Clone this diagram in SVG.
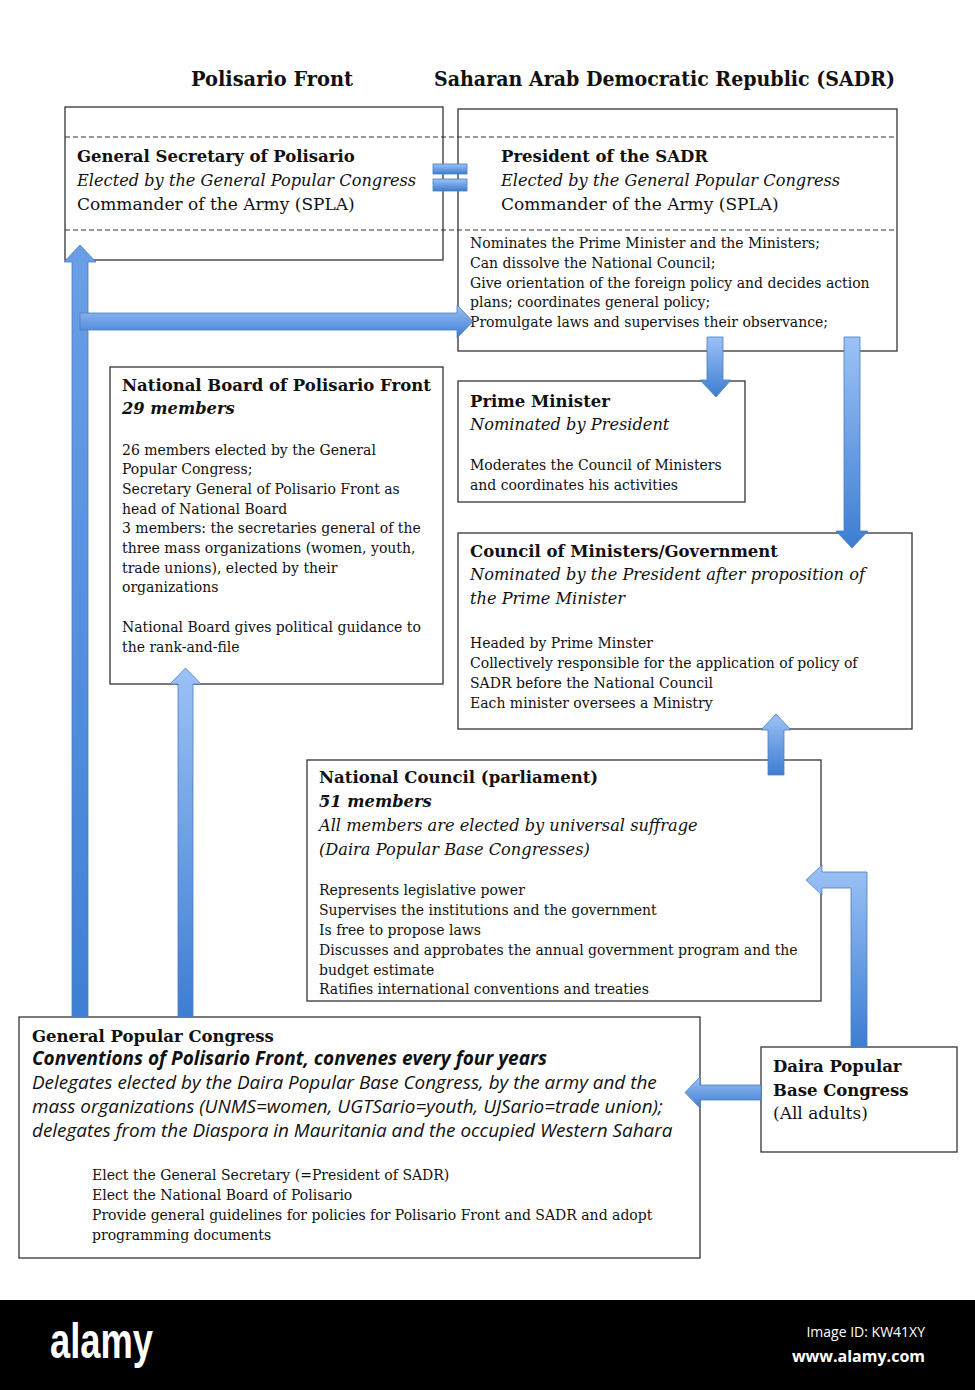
<svg xmlns="http://www.w3.org/2000/svg" width="975" height="1390" viewBox="0 0 975 1390">
<style>
.box{fill:#fff;stroke:#333;stroke-width:1.3}
.dash{fill:none;stroke:#333;stroke-width:1.2;stroke-dasharray:5 3}
.arr{fill:url(#g);stroke:#4a7ebb;stroke-width:0.8}
text{font-family:"DejaVu Serif","Liberation Serif",serif;fill:#111}
.hd{font-size:21px;font-weight:bold}
.t{font-size:16.5px;font-weight:bold}
.i{font-size:16.2px;font-style:italic}
.r{font-size:17px}
.s{font-size:14px}
.bi{font-size:16.3px;font-weight:bold;font-style:italic}
.si{font-family:"Open Sans","Liberation Sans",sans-serif;font-size:18.9px;font-style:italic}
.sbi{font-family:"Open Sans","Liberation Sans",sans-serif;font-size:19px;font-style:italic;font-weight:bold}
</style>
<defs>
<linearGradient id="g" x1="0" y1="0" x2="0" y2="1">
<stop offset="0" stop-color="#9cc2f6"/>
<stop offset="1" stop-color="#3d7dd3"/>
</linearGradient>
<linearGradient id="gv" x1="0" y1="0" x2="0" y2="1">
<stop offset="0" stop-color="#6a9fe6"/>
<stop offset="1" stop-color="#3f80d6"/>
</linearGradient>
</defs>
<rect width="975" height="1390" fill="#fff"/>

<g id="headers">
<text class="hd" x="191" y="86" textLength="162" lengthAdjust="spacingAndGlyphs">Polisario Front</text>
<text class="hd" x="434" y="86" textLength="461" lengthAdjust="spacingAndGlyphs">Saharan Arab Democratic Republic (SADR)</text>
</g>

<g id="general-secretary">
<rect class="box" x="65" y="107" width="378" height="153"/>
<text class="t" x="77" y="162">General Secretary of Polisario</text>
<text class="i" x="77" y="186">Elected by the General Popular Congress</text>
<text class="r" x="77" y="210">Commander of the Army (SPLA)</text>
</g>

<g id="president">
<rect class="box" x="458" y="109" width="439" height="242"/>
<text class="t" x="501" y="162">President of the SADR</text>
<text class="i" x="501" y="186">Elected by the General Popular Congress</text>
<text class="r" x="501" y="210">Commander of the Army (SPLA)</text>
<text class="s" x="470" y="248">Nominates the Prime Minister and the Ministers;</text>
<text class="s" x="470" y="268">Can dissolve the National Council;</text>
<text class="s" x="470" y="288">Give orientation of the foreign policy and decides action</text>
<text class="s" x="470" y="307">plans; coordinates general policy;</text>
<text class="s" x="470" y="327">Promulgate laws and supervises their observance;</text>
</g>

<line class="dash" x1="65" y1="137" x2="897" y2="137"/>
<line class="dash" x1="65" y1="230" x2="897" y2="230"/>

<g id="national-board">
<rect class="box" x="110" y="367" width="333" height="317"/>
<text class="t" x="122" y="391">National Board of Polisario Front</text>
<text class="bi" x="122" y="414">29 members</text>
<text class="s" x="122" y="455">26 members elected by the General</text>
<text class="s" x="122" y="474">Popular Congress;</text>
<text class="s" x="122" y="494">Secretary General of Polisario Front as</text>
<text class="s" x="122" y="514">head of National Board</text>
<text class="s" x="122" y="533">3 members: the secretaries general of the</text>
<text class="s" x="122" y="553">three mass organizations (women, youth,</text>
<text class="s" x="122" y="573">trade unions), elected by their</text>
<text class="s" x="122" y="592">organizations</text>
<text class="s" x="122" y="632">National Board gives political guidance to</text>
<text class="s" x="122" y="652">the rank-and-file</text>
</g>

<g id="prime-minister">
<rect class="box" x="458" y="381" width="287" height="121"/>
<text class="t" x="470" y="407">Prime Minister</text>
<text class="i" x="470" y="430">Nominated by President</text>
<text class="s" x="470" y="470">Moderates the Council of Ministers</text>
<text class="s" x="470" y="490">and coordinates his activities</text>
</g>

<g id="council-of-ministers">
<rect class="box" x="458" y="533" width="454" height="196"/>
<text class="t" x="470" y="557">Council of Ministers/Government</text>
<text class="i" x="470" y="580">Nominated by the President after proposition of</text>
<text class="i" x="470" y="604">the Prime Minister</text>
<text class="s" x="470" y="648">Headed by Prime Minster</text>
<text class="s" x="470" y="668">Collectively responsible for the application of policy of</text>
<text class="s" x="470" y="688">SADR before the National Council</text>
<text class="s" x="470" y="708">Each minister oversees a Ministry</text>
</g>

<g id="national-council">
<rect class="box" x="307" y="760" width="514" height="241"/>
<text class="t" x="319" y="783">National Council (parliament)</text>
<text class="bi" x="319" y="807">51 members</text>
<text class="i" x="319" y="831">All members are elected by universal suffrage</text>
<text class="i" x="319" y="855">(Daira Popular Base Congresses)</text>
<text class="s" x="319" y="895">Represents legislative power</text>
<text class="s" x="319" y="915">Supervises the institutions and the government</text>
<text class="s" x="319" y="935">Is free to propose laws</text>
<text class="s" x="319" y="955">Discusses and approbates the annual government program and the</text>
<text class="s" x="319" y="975">budget estimate</text>
<text class="s" x="319" y="994">Ratifies international conventions and treaties</text>
</g>

<g id="daira">
<rect class="box" x="761" y="1047" width="196" height="105"/>
<text class="t" x="773" y="1072">Daira Popular</text>
<text class="t" x="773" y="1096">Base Congress</text>
<text class="r" x="773" y="1119">(All adults)</text>
</g>

<g id="general-popular-congress">
<rect class="box" x="19" y="1017" width="681" height="241"/>
<text class="t" x="32" y="1042">General Popular Congress</text>
<text class="sbi" x="32" y="1065">Conventions of Polisario Front, convenes every four years</text>
<text class="si" x="32" y="1089">Delegates elected by the Daira Popular Base Congress, by the army and the</text>
<text class="si" x="32" y="1113">mass organizations (UNMS=women, UGTSario=youth, UJSario=trade union);</text>
<text class="si" x="32" y="1137">delegates from the Diaspora in Mauritania and the occupied Western Sahara</text>
<text class="s" x="92" y="1180">Elect the General Secretary (=President of SADR)</text>
<text class="s" x="92" y="1200">Elect the National Board of Polisario</text>
<text class="s" x="92" y="1220">Provide general guidelines for policies for Polisario Front and SADR and adopt</text>
<text class="s" x="92" y="1240">programming documents</text>
</g>

<g id="connectors">
<path class="arr" style="fill:url(#gv)" d="M72,1017 V262 H64 L80,245 L96,262 H88 V1017 Z"/>
<path class="arr" d="M80,313 H457 V305 L473,321.5 L457,338 V330 H80 Z"/>
<rect class="arr" x="433" y="164" width="34" height="10"/>
<rect class="arr" x="433" y="179" width="34" height="12"/>
<path class="arr" d="M707,337 V380 H700 L716,397 L731,380 H723 V337 Z"/>
<path class="arr" d="M844,337 V531 H836 L852,548 L868,531 H860 V337 Z"/>
<path class="arr" d="M178,1017 V684 H170 L185.5,668 L201,684 H193 V1017 Z"/>
<path class="arr" d="M768,775 V730 H761 L776,714 L791,730 H784 V775 Z"/>
<path class="arr" d="M851,1047 V888 H822 V895 L806,880 L822,865 V872 H867 V1047 Z"/>
<path class="arr" d="M761,1085 H700 V1077 L685,1092.5 L700,1108 V1100 H761 Z"/>
</g>

<g id="footer">
<rect x="0" y="1300" width="975" height="90" fill="#000"/>
<text x="50" y="1358" style="font-family:'Liberation Sans',sans-serif;font-weight:bold;font-size:50px;fill:#fff" textLength="103" lengthAdjust="spacingAndGlyphs">alamy</text>
<text x="925" y="1337" text-anchor="end" style="font-family:'Open Sans','Liberation Sans',sans-serif;font-size:14px;fill:#fff">Image ID: KW41XY</text>
<text x="925" y="1362" text-anchor="end" style="font-family:'Open Sans','Liberation Sans',sans-serif;font-weight:bold;font-size:16px;fill:#fff">www.alamy.com</text>
</g>
</svg>
